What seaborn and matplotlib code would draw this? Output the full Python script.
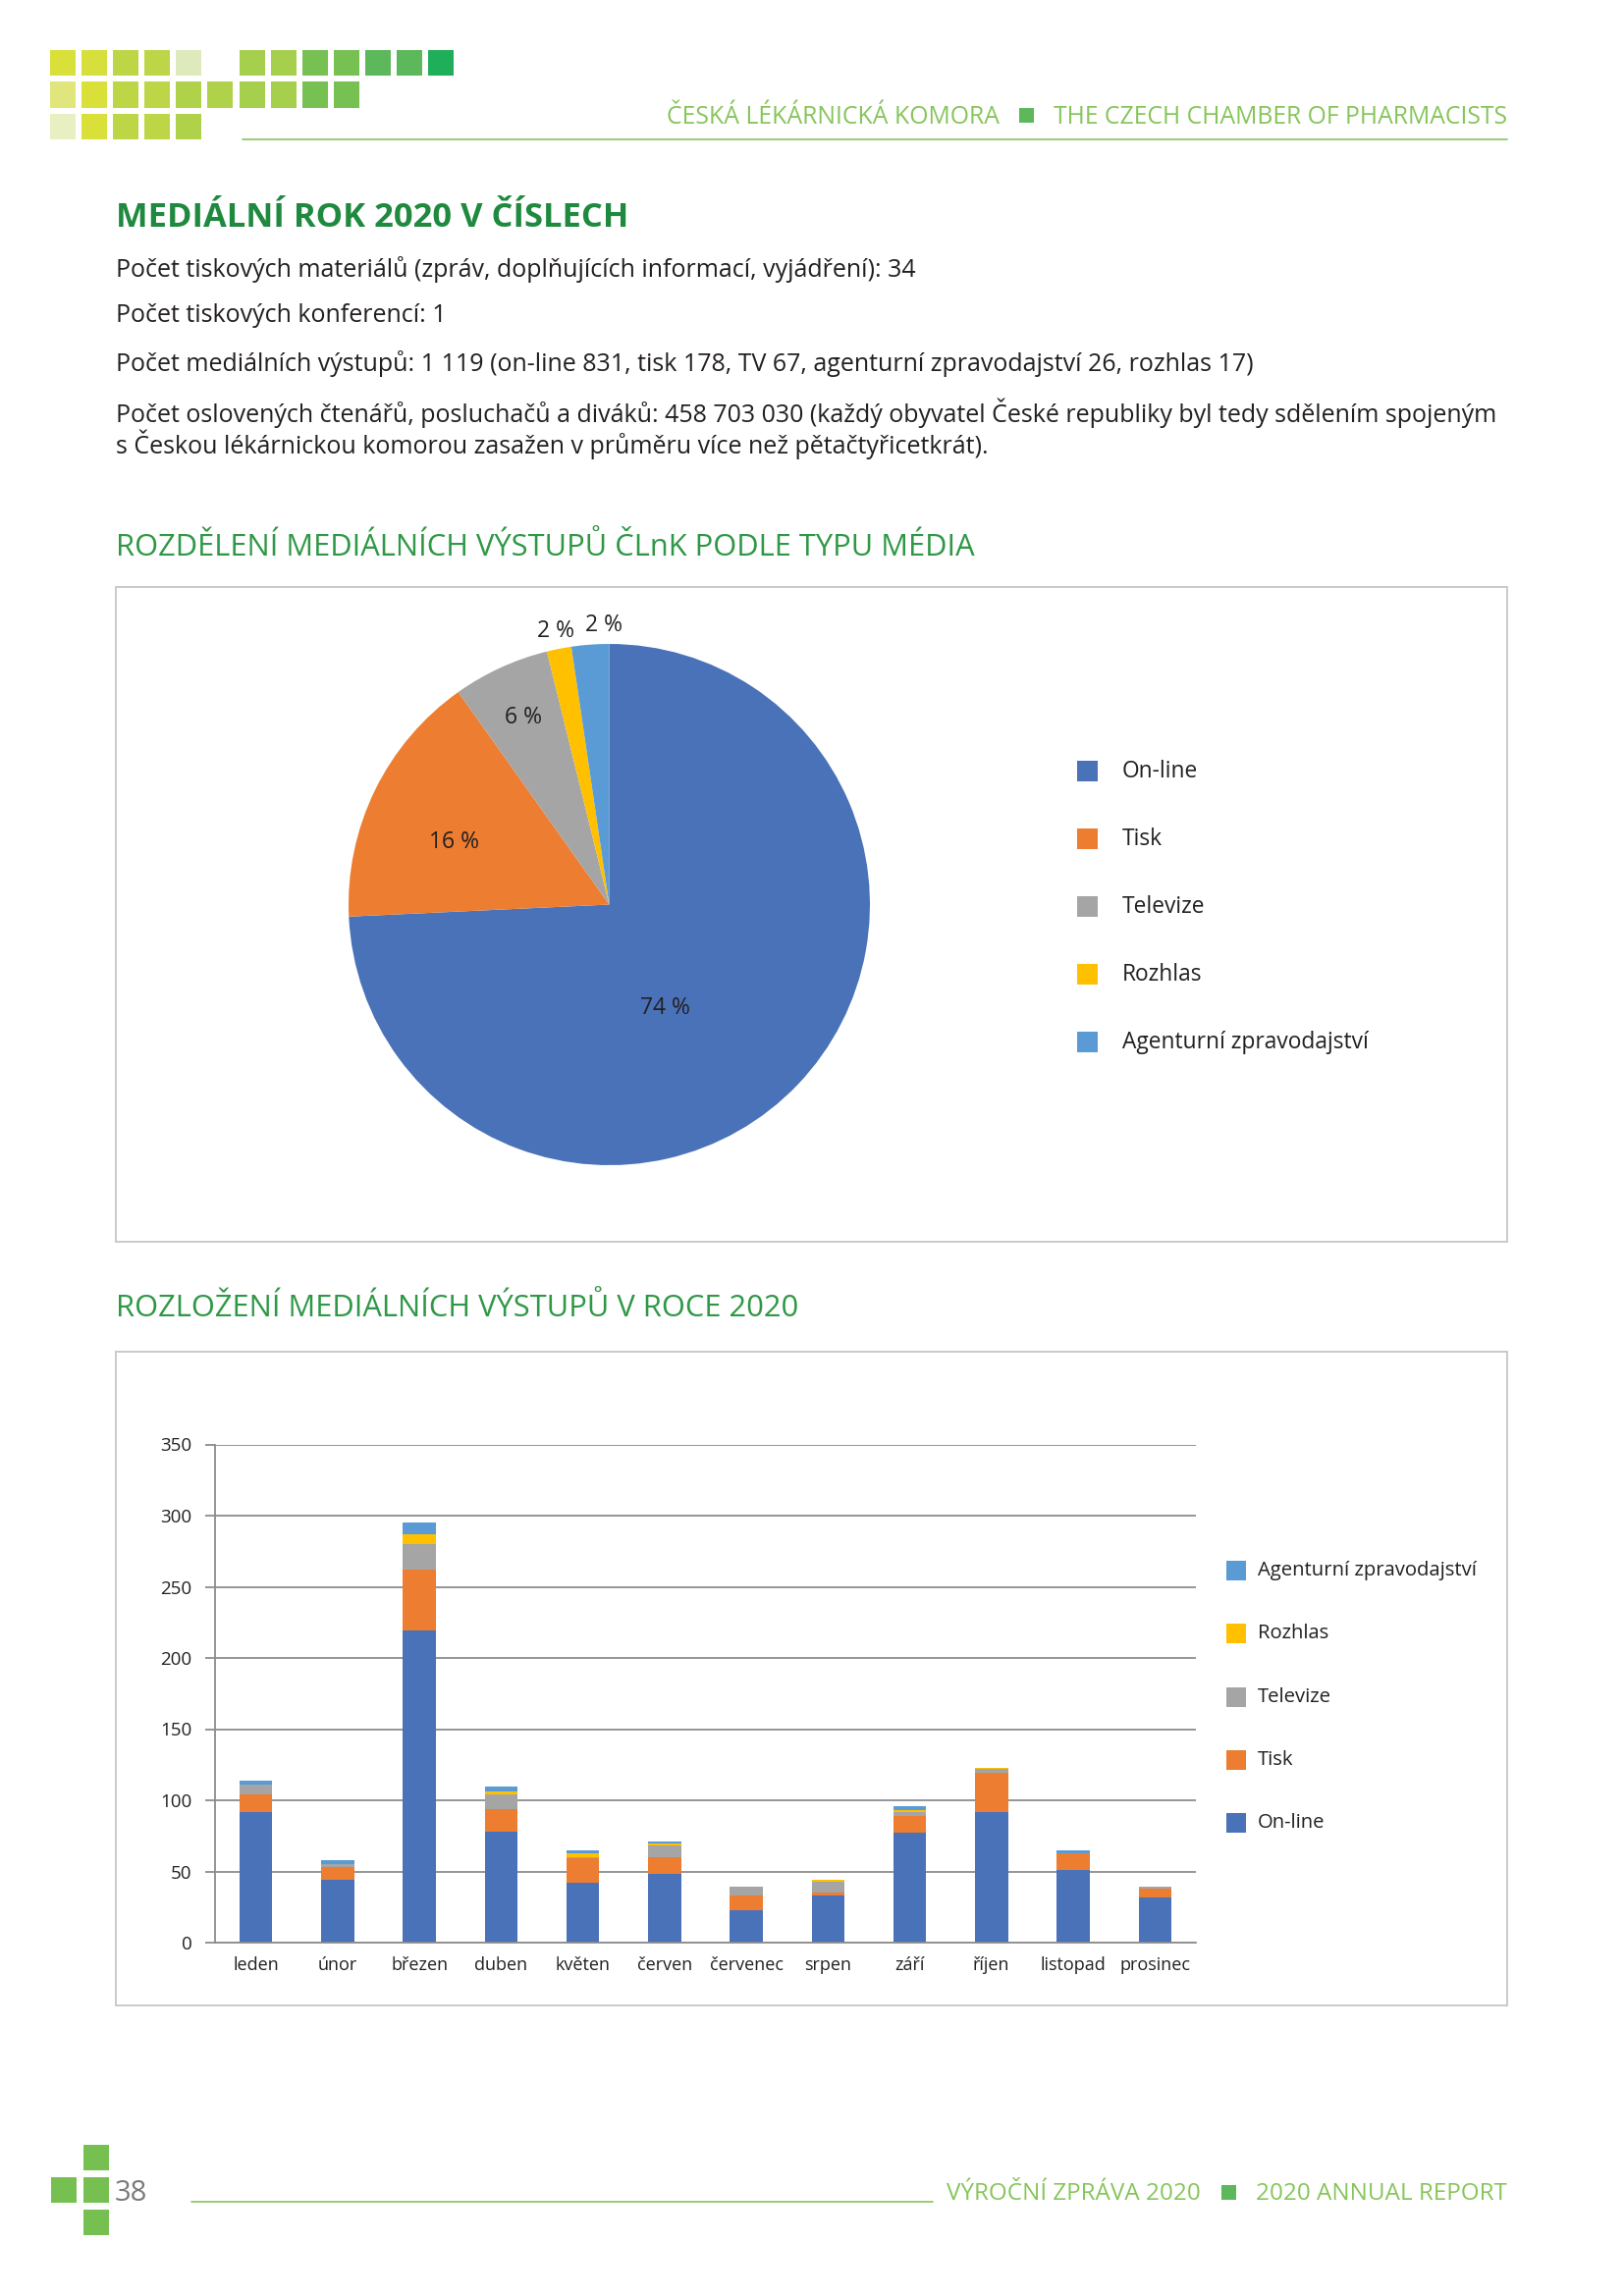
import numpy as np
import matplotlib
matplotlib.use("Agg")
import matplotlib.pyplot as plt
from matplotlib.patches import Rectangle
from matplotlib.lines import Line2D
import seaborn as sns

W, H = 1654, 2339

# ---- data ----
media_types = ["On-line", "Tisk", "Televize", "Rozhlas", "Agenturní zpravodajství"]
media_totals = [831, 178, 67, 17, 26]
pie_labels = ["74 %", "16 %", "6 %", "2 %", "2 %"]
media_colors = ["#4a72b8", "#ec7d31", "#a5a5a5", "#ffc000", "#5b9bd5"]

months = ["leden", "únor", "březen", "duben", "květen", "červen",
          "červenec", "srpen", "září", "říjen", "listopad", "prosinec"]
online = [92, 44, 219, 78, 42, 48, 23, 33, 77, 92, 51, 32]
tisk = [12, 9, 43, 16, 17, 12, 10, 2, 12, 27, 12, 6]
televize = [7, 2, 18, 10, 1, 8, 6, 8, 3, 3, 0, 1]
rozhlas = [0, 0, 7, 2, 3, 2, 0, 1, 1, 1, 0, 0]
agentura = [3, 3, 8, 4, 2, 1, 0, 0, 3, 0, 2, 0]
bar_yticks = [0, 50, 100, 150, 200, 250, 300, 350]

intro_lines = [
    "Počet tiskových materiálů (zpráv, doplňujících informací, vyjádření): 34",
    "Počet tiskových konferencí: 1",
    "Počet mediálních výstupů: 1 119 (on-line 831, tisk 178, TV 67, agenturní zpravodajství 26, rozhlas 17)",
    "Počet oslovených čtenářů, posluchačů a diváků: 458 703 030 (každý obyvatel České republiky byl tedy sdělením spojeným",
    "s Českou lékárnickou komorou zasažen v průměru více než pětačtyřicetkrát).",
]

# header decoration colours (None = gap)
deco_rows = [
    ["#d9e03a", "#d6df3c", "#bdd645", "#bcd648", "#dfeabc", None,
     "#a5cf4c", "#a5cf4c", "#77c052", "#77c052", "#5cb85a", "#5cb85a", "#1faf5a"],
    ["#e0e57c", "#d9e03a", "#bdd645", "#bcd648", "#b0d24a", "#b0d24a",
     "#a5cf4c", "#a5cf4c", "#77c052", "#77c052"],
    ["#e8efc0", "#d9e03a", "#bdd645", "#bdd645", "#b0d24a"],
]

GREEN_LIGHT = "#86c55a"
GREEN_DARK = "#1f8a3f"
GREEN_MID = "#2f9846"
TEXT = "#231f20"


def fx(x):
    return x / W


def fy(y):
    return 1 - y / H


sns.set_theme(style="white")
plt.rcParams["font.family"] = ["Open Sans", "DejaVu Sans"]

fig = plt.figure(figsize=(W / 100, H / 100), dpi=100)
fig.patch.set_facecolor("white")

# ---- header ----
for r, row in enumerate(deco_rows):
    for c, col in enumerate(row):
        if col is None:
            continue
        x0 = 51 + c * 32.1
        y0 = 51 + r * 32.5
        fig.patches.append(Rectangle((fx(x0), fy(y0 + 26)), 26 / W, 26 / H,
                                     transform=fig.transFigure, color=col, lw=0))

fig.add_artist(Line2D([fx(247), fx(1535)], [fy(142), fy(142)], color=GREEN_LIGHT, lw=1.2))
fig.text(fx(1535), fy(119), "THE CZECH CHAMBER OF PHARMACISTS", ha="right", va="center",
         fontsize=17.8, color=GREEN_LIGHT)
fig.text(fx(1018), fy(119), "ČESKÁ LÉKÁRNICKÁ KOMORA", ha="right", va="center",
         fontsize=17.9, color=GREEN_LIGHT)
fig.patches.append(Rectangle((fx(1038), fy(125)), 15 / W, 15 / H,
                             transform=fig.transFigure, color="#5cb85a", lw=0))

# ---- intro text ----
fig.text(fx(118), fy(222), "MEDIÁLNÍ ROK 2020 V ČÍSLECH", ha="left", va="center",
         fontsize=24.8, fontweight="bold", color=GREEN_DARK)
for line, y in zip(intro_lines, [274, 322, 371, 421, 453]):
    fig.text(fx(118), fy(y), line, ha="left", va="center", fontsize=18, color=TEXT)

# ---- section 1: pie ----
fig.text(fx(118), fy(558), "ROZDĚLENÍ MEDIÁLNÍCH VÝSTUPŮ ČLnK PODLE TYPU MÉDIA",
         ha="left", va="center", fontsize=22.2, color=GREEN_MID)
fig.patches.append(Rectangle((fx(118), fy(1265)), (1535 - 118) / W, (1265 - 598) / H,
                             transform=fig.transFigure, fill=False, ec="#c6c6c6", lw=1.3))

ax_pie = fig.add_axes([fx(355), fy(1187), 531 / W, 531 / H])
wedges, _ = ax_pie.pie(media_totals, colors=media_colors, startangle=90,
                       counterclock=False, wedgeprops=dict(linewidth=0))
ax_pie.set_xlim(-1, 1)
ax_pie.set_ylim(-1, 1)
ax_pie.set_aspect("equal")
ax_pie.axis("off")

label_r = [0.45, 0.64, 0.79, 1.07, 1.07]
label_shift = [-18, 4, 0, 0, -3]
for w, lab, r, s in zip(wedges, pie_labels, label_r, label_shift):
    ang = np.deg2rad((w.theta1 + w.theta2) / 2 + s)
    ax_pie.text(r * np.cos(ang), r * np.sin(ang), lab, ha="center", va="center",
                fontsize=16.5, color=TEXT)

for i, (name, col) in enumerate(zip(media_types, media_colors)):
    y = 786 + i * 69
    fig.patches.append(Rectangle((fx(1097), fy(y + 10)), 21 / W, 21 / H,
                                 transform=fig.transFigure, color=col, lw=0))
    fig.text(fx(1143), fy(y), name, ha="left", va="center", fontsize=16.4, color=TEXT)

# ---- section 2: stacked bars ----
fig.text(fx(118), fy(1333), "ROZLOŽENÍ MEDIÁLNÍCH VÝSTUPŮ V ROCE 2020",
         ha="left", va="center", fontsize=22.2, color=GREEN_MID)
fig.patches.append(Rectangle((fx(118), fy(2043)), (1535 - 118) / W, (2043 - 1377) / H,
                             transform=fig.transFigure, fill=False, ec="#c6c6c6", lw=1.3))

ax_bar = fig.add_axes([fx(219), fy(1979), (1218 - 219) / W, (1979 - 1471.5) / H])
layers = np.array([online, tisk, televize, rozhlas, agentura])
cum = np.cumsum(layers, axis=0)
# stacked look: draw the running totals from the top layer down
for i in reversed(range(len(media_types))):
    sns.barplot(x=months, y=cum[i], order=months, color=media_colors[i], width=0.4,
                saturation=1, errorbar=None, linewidth=0, ax=ax_bar)

ax_bar.set_xlim(-0.5, len(months) - 0.5)
ax_bar.set_ylim(0, 350)
ax_bar.set_yticks(bar_yticks)
ax_bar.set_yticklabels([str(v) for v in bar_yticks])
ax_bar.set_xticks(range(len(months)))
ax_bar.set_xticklabels(months)
ax_bar.set_xticks(np.arange(-0.5, len(months)), minor=True)
ax_bar.tick_params(axis="x", which="major", length=0, labelsize=13, colors=TEXT, pad=10)
ax_bar.tick_params(axis="x", which="minor", length=7, width=1.3, color="#8c8c8c", direction="out")
ax_bar.tick_params(axis="y", length=7, width=1.3, color="#8c8c8c", labelsize=13.5,
                   labelcolor=TEXT, pad=10, left=True)
ax_bar.yaxis.grid(True, color="#8c8c8c", lw=1.3)
ax_bar.set_axisbelow(True)
for side in ["top", "right"]:
    ax_bar.spines[side].set_visible(False)
for side in ["left", "bottom"]:
    ax_bar.spines[side].set_color("#8c8c8c")
    ax_bar.spines[side].set_linewidth(1.3)
ax_bar.set_xlabel("")
ax_bar.set_ylabel("")
ax_bar.set_facecolor("none")

for i, (name, col) in enumerate(zip(media_types[::-1], media_colors[::-1])):
    y = 1600 + i * 64.3
    fig.patches.append(Rectangle((fx(1249), fy(y + 10)), 20 / W, 20 / H,
                                 transform=fig.transFigure, color=col, lw=0))
    fig.text(fx(1281), fy(y), name, ha="left", va="center", fontsize=14.6, color=TEXT)

# ---- footer ----
for (x0, y0) in [(85, 2185), (52, 2218), (85, 2218), (85, 2251)]:
    fig.patches.append(Rectangle((fx(x0), fy(y0 + 26)), 26 / W, 26 / H,
                                 transform=fig.transFigure, color="#76c051", lw=0))
fig.text(fx(117), fy(2234), "38", ha="left", va="center", fontsize=21,
         color="#7a7a7a")
fig.add_artist(Line2D([fx(195), fx(950)], [fy(2243), fy(2243)], color=GREEN_LIGHT, lw=1.2))
fig.text(fx(1535), fy(2235), "2020 ANNUAL REPORT", ha="right", va="center",
         fontsize=17.5, color=GREEN_LIGHT)
fig.text(fx(1223), fy(2235), "VÝROČNÍ ZPRÁVA 2020", ha="right", va="center",
         fontsize=17.5, color=GREEN_LIGHT)
fig.patches.append(Rectangle((fx(1244), fy(2241)), 15 / W, 15 / H,
                             transform=fig.transFigure, color="#5cb85a", lw=0))

fig.savefig("out.png", dpi=100)
